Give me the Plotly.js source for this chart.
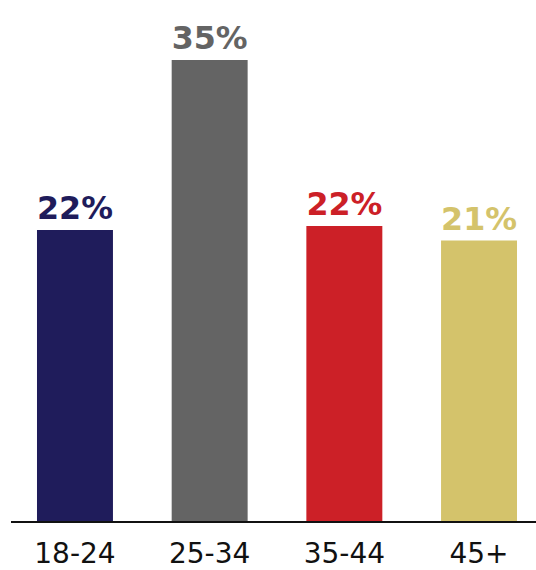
<!DOCTYPE html>
<html>
<head>
<meta charset="utf-8">
<script src="https://cdn.plot.ly/plotly-3.0.1.min.js"></script>
<style>html,body{margin:0;padding:0;background:#fff;}#chart{width:536px;height:570px;}</style>
</head>
<body>
<div id="chart"></div>
<script>
const categories = ['18-24', '25-34', '35-44', '45+'];
const values = [22.1, 35.0, 22.4, 21.3];
const labels = ['22%', '35%', '22%', '21%'];
const colors = ['#1f1c5b', '#646464', '#cc2027', '#d4c36b'];

const trace = {
  type: 'bar',
  x: categories,
  y: values,
  text: labels,
  textposition: 'outside',
  cliponaxis: false,
  textfont: {family: 'DejaVu Sans, sans-serif', size: 32, color: colors, weight: 'bold'},
  marker: {color: colors},
  hoverinfo: 'none'
};

const layout = {
  width: 536,
  height: 570,
  margin: {l: 11, r: 0, t: 0, b: 49},
  paper_bgcolor: '#fff',
  plot_bgcolor: '#fff',
  showlegend: false,
  bargap: 0.436,
  xaxis: {
    type: 'category',
    range: [-0.475, 3.423],
    showline: true,
    linecolor: '#111',
    linewidth: 2,
    showgrid: false,
    zeroline: false,
    ticks: '',
    tickfont: {family: 'DejaVu Sans, sans-serif', size: 28, color: '#111'},
    ticklabelstandoff: 6
  },
  yaxis: {
    range: [0, 39.56],
    visible: false,
    showgrid: false,
    zeroline: false
  }
};

Plotly.newPlot('chart', [trace], layout, {displayModeBar: false, staticPlot: true});
</script>
</body>
</html>
